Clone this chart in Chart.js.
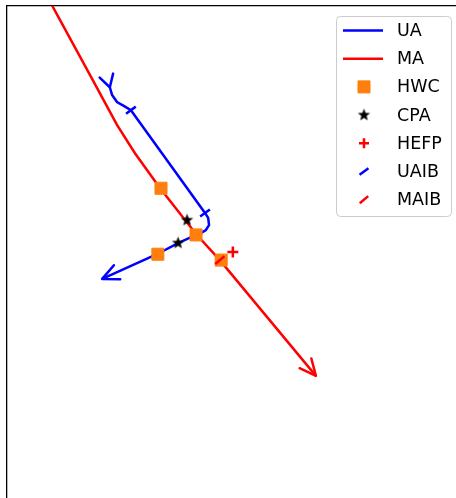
<!DOCTYPE html>
<html>
<head>
<meta charset="utf-8">
<script src="https://cdn.jsdelivr.net/npm/chart.js@4.4.0/dist/chart.umd.min.js"></script>
<style>
  body { margin: 0; background: #fff; }
  #wrap { width: 456px; height: 498px; }
</style>
</head>
<body>
<div id="wrap"><canvas id="plot" width="456" height="498"></canvas></div>
<script>
    // tracks and events, plot units (nm)
    let uaX = [2.29, 2.34, 2.45, 2.61, 2.76, 4.41, 4.48, 4.50, 4.43, 4.32, 4.21, 3.81, 3.34, 2.12],
        uaY = [9.15, 8.98, 8.82, 8.73, 8.64, 6.35, 6.24, 6.08, 5.97, 5.90, 5.86, 5.68, 5.43, 4.88],
        maX = [0.94, 1.85, 2.45, 2.85, 3.41, 4.21, 4.74, 6.88],
        maY = [11.09, 9.42, 8.31, 7.68, 6.90, 5.88, 5.30, 2.72],
        hwcX = [3.43, 4.21, 3.36, 4.77],
        hwcY = [6.90, 5.86, 5.43, 5.30],
        cpaX = [4.01, 3.81],
        cpaY = [6.19, 5.68],
        hefpX = [5.03],
        hefpY = [5.48],
        uaibX = [2.76, 4.41],
        uaibY = [8.64, 6.35],
        maibX = [4.74],
        maibY = [5.30]

    let xMin = 0, xMax = 10,
        yMin = 0, yMax = 10.96

    function toPoints(xs, ys) {
        return xs.map((x, i) => ({ x: x, y: ys[i] }))
    }

    //filled star for CPA (chart.js 'star' is only an asterisk)
    function makeStar(r) {
        let c = document.createElement('canvas')
        c.width = c.height = Math.ceil(r * 2 + 2)
        let g = c.getContext('2d')
        g.translate(c.width / 2, c.height / 2)
        g.beginPath()
        for (let i = 0; i < 10; i++) {
            let rr = i % 2 ? r * 0.42 : r
            let a = -Math.PI / 2 + i * Math.PI / 5
            g.lineTo(rr * Math.cos(a), rr * Math.sin(a))
        }
        g.closePath()
        g.fillStyle = '#000'
        g.fill()
        return c
    }
    let star = makeStar(6.5)

    let datasets = [
        { label: 'UA', data: toPoints(uaX, uaY), showLine: true, borderColor: '#0000ff', borderWidth: 2.5,
          pointRadius: 0, fill: false, clip: 0, order: 6, arrowEnd: true, arrowStart: true },
        { label: 'MA', data: toPoints(maX, maY), showLine: true, borderColor: '#ff0000', borderWidth: 2.5,
          pointRadius: 0, fill: false, clip: 0, order: 5, arrowEnd: true },
        { label: 'HWC', data: toPoints(hwcX, hwcY), pointStyle: 'rect', pointRadius: 8.5,
          backgroundColor: '#ff7f0e', borderColor: '#ff7f0e', borderWidth: 1, order: 4 },
        { label: 'CPA', data: toPoints(cpaX, cpaY), pointStyle: star, pointRadius: 6,
          backgroundColor: '#000', borderColor: '#000', order: 3 },
        { label: 'HEFP', data: toPoints(hefpX, hefpY), pointStyle: 'cross', pointRadius: 5.5,
          backgroundColor: '#ff0000', borderColor: '#ff0000', borderWidth: 2.5, order: 2 },
        { label: 'UAIB', data: toPoints(uaibX, uaibY), pointStyle: 'line', pointRadius: 6, pointRotation: -36,
          backgroundColor: '#0000ff', borderColor: '#0000ff', borderWidth: 2.5, order: 1 },
        { label: 'MAIB', data: toPoints(maibX, maibY), pointStyle: 'line', pointRadius: 6, pointRotation: -40,
          backgroundColor: '#ff0000', borderColor: '#ff0000', borderWidth: 2.5, order: 0 }
    ]

    function drawHead(ctx, tip, ref, len, spread, away) {
        let a = Math.atan2(ref.y - tip.y, ref.x - tip.x)
        if (away) a += Math.PI
        let s = spread * Math.PI / 180
        ctx.beginPath()
        ctx.moveTo(tip.x + len * Math.cos(a + s), tip.y + len * Math.sin(a + s))
        ctx.lineTo(tip.x, tip.y)
        ctx.lineTo(tip.x + len * Math.cos(a - s), tip.y + len * Math.sin(a - s))
        ctx.stroke()
    }

    //arrow heads at the ends of the tracks
    let arrowPlugin = {
        id: 'arrows',
        afterDatasetsDraw(chart) {
            let ctx = chart.ctx
            chart.data.datasets.forEach((ds, i) => {
                if (!ds.arrowEnd && !ds.arrowStart) return
                let pts = chart.getDatasetMeta(i).data
                ctx.save()
                ctx.strokeStyle = ds.borderColor
                ctx.lineWidth = ds.borderWidth
                ctx.lineCap = 'round'
                ctx.lineJoin = 'round'
                if (ds.arrowEnd) drawHead(ctx, pts[pts.length - 1], pts[pts.length - 2], 18, 25, false)
                if (ds.arrowStart) drawHead(ctx, pts[0], pts[1], 14, 30, true)
                ctx.restore()
            })
        }
    }

    //legend box in the upper right, matplotlib style
    let legendPlugin = {
        id: 'boxLegend',
        afterDraw(chart) {
            let ctx = chart.ctx
            let left = 336.5, top = 16.5, w = 115, h = 200, r = 4, rowH = 28.2
            ctx.save()
            ctx.beginPath()
            ctx.moveTo(left + r, top)
            ctx.arcTo(left + w, top, left + w, top + h, r)
            ctx.arcTo(left + w, top + h, left, top + h, r)
            ctx.arcTo(left, top + h, left, top, r)
            ctx.arcTo(left, top, left + w, top, r)
            ctx.closePath()
            ctx.fillStyle = 'rgba(255,255,255,0.8)'
            ctx.fill()
            ctx.strokeStyle = '#cccccc'
            ctx.lineWidth = 1
            ctx.stroke()

            ctx.font = '17.5px "DejaVu Sans"'
            ctx.textBaseline = 'middle'
            chart.data.datasets.forEach((ds, i) => {
                let y = top + 14 + i * rowH
                if (ds.showLine) {
                    ctx.strokeStyle = ds.borderColor
                    ctx.lineWidth = ds.borderWidth
                    ctx.beginPath()
                    ctx.moveTo(343, y)
                    ctx.lineTo(383, y)
                    ctx.stroke()
                } else {
                    ctx.fillStyle = ds.backgroundColor
                    ctx.strokeStyle = ds.borderColor
                    ctx.lineWidth = ds.borderWidth || 1
                    Chart.helpers.drawPoint(ctx, {
                        pointStyle: ds.pointStyle,
                        rotation: ds.pointRotation || 0,
                        radius: ds.pointStyle === 'rect' ? 8.5 : ds.pointRadius - 0.5,
                        borderWidth: ds.borderWidth || 0
                    }, 364, y)
                }
                ctx.fillStyle = '#000'
                ctx.fillText(ds.label, 397, y + 1)
            })
            ctx.restore()
        }
    }

    let ctx = document.getElementById('plot').getContext('2d')
    let plot = new Chart(ctx, {
        type: 'scatter',
        data: { datasets: datasets },
        options: {
            responsive: false,
            animation: false,
            devicePixelRatio: 1,
            layout: { autoPadding: false, padding: { left: 7, top: 6, right: 0, bottom: 0 } },
            plugins: {
                legend: { display: false },
                tooltip: { enabled: false }
            },
            scales: {
                x: {
                    type: 'linear', position: 'top', min: xMin, max: xMax,
                    ticks: { display: false },
                    grid: { display: false, drawTicks: false },
                    border: { display: true, color: '#000', width: 1.3 }
                },
                y: {
                    type: 'linear', position: 'left', min: yMin, max: yMax,
                    ticks: { display: false },
                    grid: { display: false, drawTicks: false },
                    border: { display: true, color: '#000', width: 1.3 }
                }
            }
        },
        plugins: [arrowPlugin, legendPlugin]
    })
</script>
</body>
</html>
